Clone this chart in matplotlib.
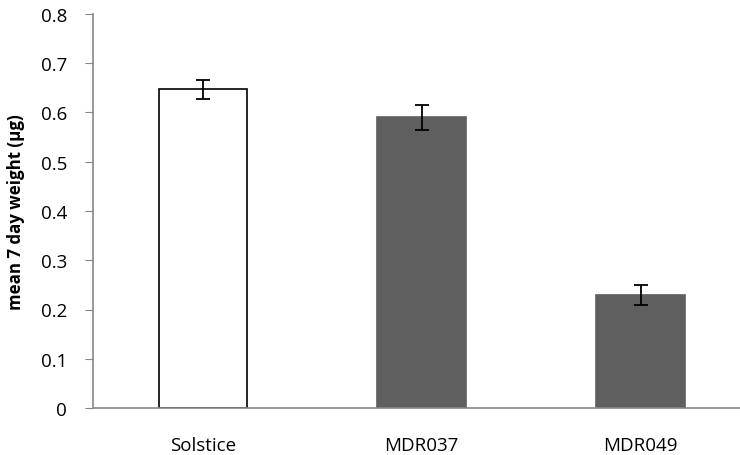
import numpy as np
import matplotlib.pyplot as plt

plt.rcParams['font.family'] = ['Open Sans', 'DejaVu Sans']

# data
strains = ["Solstice", "MDR037", "MDR049"]
mean_weight = [0.647, 0.590, 0.229]
err = [0.020, 0.025, 0.020]
bar_colors = ["white", "#5f5f5f", "#5f5f5f"]
edge_colors = ["black", "#5f5f5f", "#5f5f5f"]

fig = plt.figure(figsize=(7.4, 4.56), dpi=100)
ax = fig.add_axes([93.5 / 740, 1 - 409 / 456, 1 - 93.5 / 740, (409 - 15) / 456])

x = np.arange(len(strains))
ax.bar(x, mean_weight, width=0.405, color=bar_colors, edgecolor=edge_colors, linewidth=1.2,
       yerr=err, capsize=5, error_kw=dict(ecolor="black", elinewidth=1.3, capthick=1.3), zorder=2)

ax.set_xlim(-0.5, 2.5 - 10 / 219)
ax.set_ylim(0, 0.8)
ax.set_yticks(np.arange(0, 0.81, 0.1))
ax.set_yticklabels(["0"] + [f"{v:.1f}" for v in np.arange(0.1, 0.81, 0.1)], fontsize=13.5)
ax.set_xticks(x)
ax.set_xticklabels(strains, fontsize=13.5)
ax.tick_params(axis="x", length=0, pad=20)
ax.tick_params(axis="y", length=6, color="#868686", pad=13)

for side in ["top", "right"]:
    ax.spines[side].set_visible(False)
for side in ["left", "bottom"]:
    ax.spines[side].set_color("#868686")
    ax.spines[side].set_linewidth(1.2)

ax.set_ylabel("mean 7 day weight (µg)", fontsize=12.2, fontweight="bold", labelpad=11)

fig.savefig("out.png", dpi=100)
